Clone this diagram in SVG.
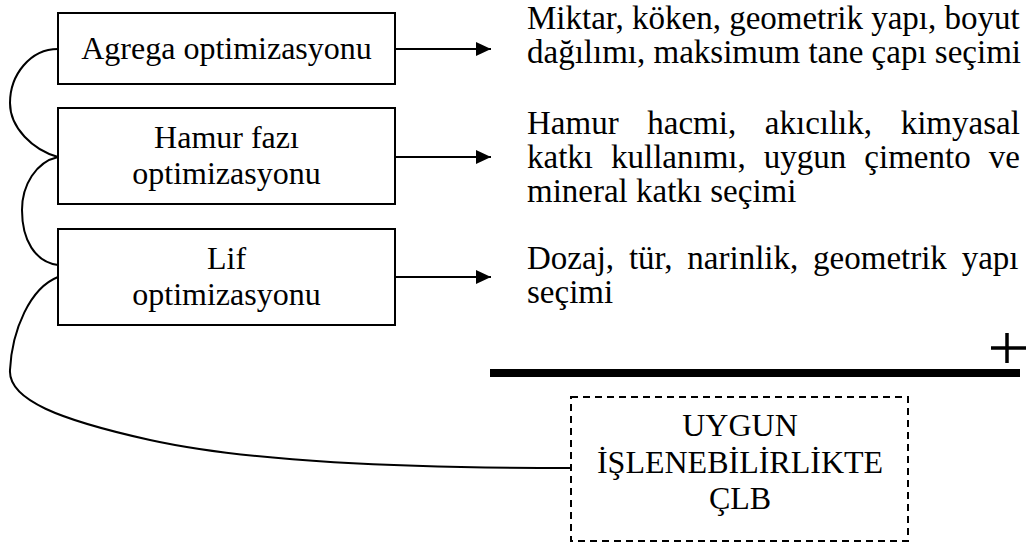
<svg xmlns="http://www.w3.org/2000/svg" width="1032" height="545" viewBox="0 0 1032 545">
  <style>
    .box { fill: #ffffff; stroke: #000000; stroke-width: 2; }
    .dash { fill: #ffffff; stroke: #000000; stroke-width: 2; stroke-dasharray: 7 5; }
    .lbl { font-family: "Liberation Serif", "Times New Roman", serif; font-size: 32px; fill: #000000; text-anchor: middle; }
    .desc { font-family: "Liberation Serif", "Times New Roman", serif; font-size: 33px; fill: #000000; }
    .link { fill: none; stroke: #000000; stroke-width: 2; }
    .arrow { fill: none; stroke: #000000; stroke-width: 2; marker-end: url(#head); }
  </style>
  <defs>
    <marker id="head" markerUnits="userSpaceOnUse" markerWidth="16" markerHeight="14" refX="15" refY="7" orient="auto">
      <path d="M0,0 L15,7 L0,14 Z" fill="#000000"/>
    </marker>
  </defs>
  <rect width="1032" height="545" fill="#ffffff"/>

  <g id="connectors">
    <!-- curved links on the left -->
    <path class="link" d="M58,49 C30,49 10,75 10,103 C10,128 33,150 58,157"/>
    <path class="link" d="M58,157 C36,162 22,185 22,210 C22,240 35,262 58,265"/>
    <path class="link" d="M58,277 C30,288 12,330 10,370 C8,400 60,420 150,440 C250,462 400,468 572,468"/>
    <!-- arrows to the descriptions -->
    <line class="arrow" x1="395" y1="49" x2="491" y2="49"/>
    <line class="arrow" x1="395" y1="157" x2="491" y2="157"/>
    <line class="arrow" x1="395" y1="277" x2="491" y2="277"/>
  </g>

  <g id="agrega">
    <rect class="box" x="58" y="13" width="337" height="71"/>
    <text class="lbl" x="226.5" y="59">Agrega optimizasyonu</text>
  </g>

  <g id="hamur">
    <rect class="box" x="58" y="108" width="337" height="96"/>
    <text class="lbl" x="226.5" y="148">Hamur fazı</text>
    <text class="lbl" x="226.5" y="184">optimizasyonu</text>
  </g>

  <g id="lif">
    <rect class="box" x="58" y="229" width="337" height="96"/>
    <text class="lbl" x="226.5" y="269">Lif</text>
    <text class="lbl" x="226.5" y="305">optimizasyonu</text>
  </g>

  <g id="agrega-desc">
    <text class="desc" x="527" y="29">Miktar, köken, geometrik yapı, boyut</text>
    <text class="desc" x="527" y="63">dağılımı, maksimum tane çapı seçimi</text>
  </g>

  <g id="hamur-desc">
    <text class="desc" x="527" y="134" word-spacing="20.4">Hamur hacmi, akıcılık, kimyasal</text>
    <text class="desc" x="527" y="168" word-spacing="9.8">katkı kullanımı, uygun çimento ve</text>
    <text class="desc" x="527" y="202">mineral katkı seçimi</text>
  </g>

  <g id="lif-desc">
    <text class="desc" x="527" y="269" word-spacing="6.6">Dozaj, tür, narinlik, geometrik yapı</text>
    <text class="desc" x="527" y="303">seçimi</text>
  </g>

  <g id="sum">
    <line x1="1007" y1="333" x2="1007" y2="363" stroke="#000000" stroke-width="3.5"/>
    <line x1="991" y1="348" x2="1026" y2="348" stroke="#000000" stroke-width="3.5"/>
    <line x1="490" y1="373" x2="1020" y2="373" stroke="#000000" stroke-width="8"/>
  </g>

  <g id="result">
    <rect class="dash" x="571" y="397" width="337" height="144"/>
    <text class="lbl" x="740" y="436">UYGUN</text>
    <text class="lbl" x="740" y="473">İŞLENEBİLİRLİKTE</text>
    <text class="lbl" x="740" y="509">ÇLB</text>
  </g>
</svg>
